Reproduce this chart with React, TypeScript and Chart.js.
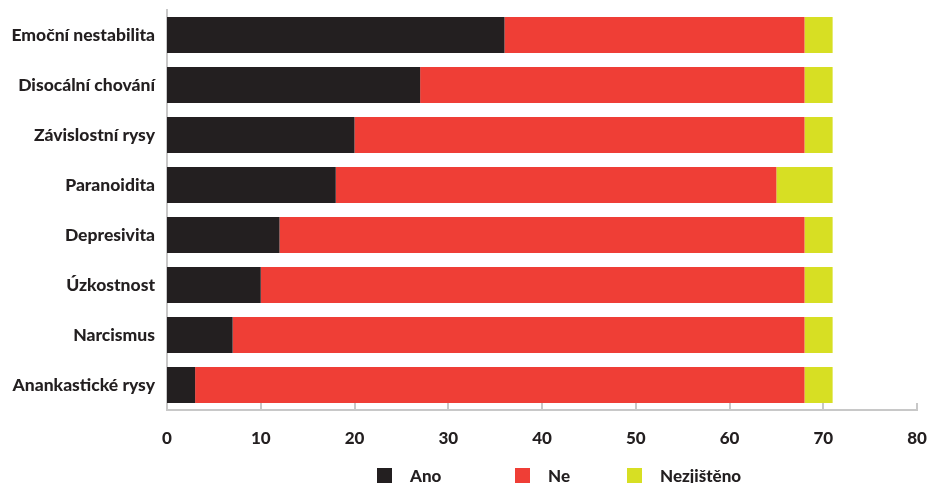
import React, { useEffect, useRef } from "react";
import { Chart, registerables } from "chart.js";

Chart.register(...registerables);

const categories = [
  "Emoční nestabilita",
  "Disocální chování",
  "Závislostní rysy",
  "Paranoidita",
  "Depresivita",
  "Úzkostnost",
  "Narcismus",
  "Anankastické rysy",
];
const seriesNames = ["Ano", "Ne", "Nezjištěno"];
const ano = [36, 27, 20, 18, 12, 10, 7, 3];
const ne = [32, 41, 48, 47, 56, 58, 61, 65];
const nezjisteno = [3, 3, 3, 6, 3, 3, 3, 3];
const colors = ["#231f20", "#ef3e36", "#d7df23"];
const xTicks = [0, 10, 20, 30, 40, 50, 60, 70, 80];

const FONT = "Lato, 'Open Sans', sans-serif";
const WEIGHT = "900";
const AXIS_COLOR = "#c8c8c8";

const tickMarks = {
  id: "tickMarks",
  afterDraw(chart: any) {
    const x = chart.scales.x;
    const ctx = chart.ctx;
    ctx.save();
    ctx.strokeStyle = AXIS_COLOR;
    ctx.lineWidth = 2;
    xTicks.forEach((v) => {
      const px = Math.round(x.getPixelForValue(v));
      ctx.beginPath();
      ctx.moveTo(px, x.top);
      ctx.lineTo(px, x.top - 7);
      ctx.stroke();
    });
    ctx.restore();
  },
};

export default function App() {
  const ref = useRef<HTMLCanvasElement>(null);
  useEffect(() => {
    document.body.style.margin = "0";
    const data = [ano, ne, nezjisteno];
    const chart = new Chart(ref.current!, {
      type: "bar",
      data: {
        labels: categories,
        datasets: seriesNames.map((n, i) => ({
          label: n,
          data: data[i],
          backgroundColor: colors[i],
          borderWidth: 0,
          barPercentage: 0.9,
          categoryPercentage: 0.8,
        })),
      },
      options: {
        indexAxis: "y",
        animation: false,
        responsive: false,
        layout: { padding: { top: 10, right: 13, left: 0, bottom: 0 } },
        plugins: { legend: { display: false }, tooltip: { enabled: false } },
        scales: {
          x: {
            stacked: true,
            min: 0,
            max: 80,
            afterBuildTicks: (s: any) => {
              s.ticks = xTicks.map((v) => ({ value: v }));
            },
            grid: { display: false, drawTicks: false },
            border: { display: true, color: AXIS_COLOR, width: 2 },
            ticks: {
              padding: 18,
              color: "#231f20",
              font: { family: FONT, size: 17, weight: WEIGHT },
            },
            afterFit: (s: any) => {
              s.height = 73;
              s.paddingLeft = 0;
              s.paddingRight = 0;
            },
          },
          y: {
            stacked: true,
            grid: { display: false, drawTicks: false },
            border: { display: true, color: AXIS_COLOR, width: 2 },
            ticks: {
              padding: 12,
              color: "#231f20",
              font: { family: FONT, size: 17.5, weight: WEIGHT },
            },
            afterFit: (s: any) => {
              s.width = 167;
              s.paddingTop = 0;
              s.paddingBottom = 0;
            },
          },
        },
      },
      plugins: [tickMarks],
    });
    return () => chart.destroy();
  }, []);

  const legendPos = [377, 515, 627];
  return (
    <div style={{ position: "relative", width: 930, height: 483 }}>
      <canvas ref={ref} width={930} height={483} />
      {seriesNames.map((n, i) => (
        <div
          key={n}
          style={{
            position: "absolute",
            left: legendPos[i],
            top: 465,
            display: "flex",
            alignItems: "center",
            fontFamily: FONT,
            fontWeight: 900,
            fontSize: 17,
            color: "#231f20",
          }}
        >
          <span
            style={{
              display: "inline-block",
              width: 15,
              height: 15,
              background: colors[i],
              marginRight: 18,
            }}
          />
          {n}
        </div>
      ))}
    </div>
  );
}
